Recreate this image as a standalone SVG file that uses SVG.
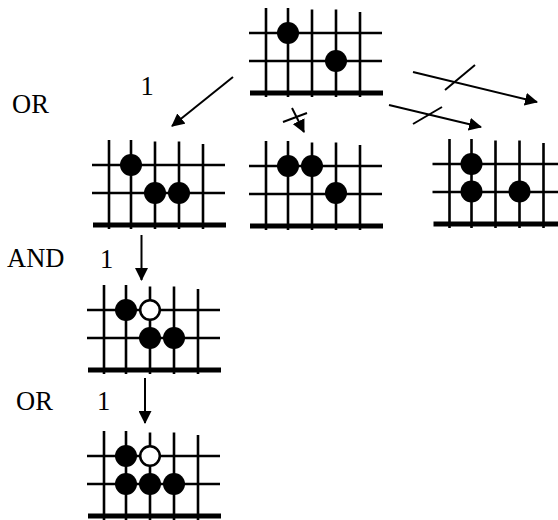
<svg xmlns="http://www.w3.org/2000/svg" xmlns:xlink="http://www.w3.org/1999/xlink" width="558" height="520" viewBox="0 0 558 520">
<style>
.g{stroke:#000;stroke-width:2.6;fill:none}
.t{stroke:#000;stroke-width:5;fill:none}
.b{fill:#000}
.w{fill:#fff;stroke:#000;stroke-width:2.5}
.c{stroke:#000;stroke-width:2;fill:none}
.lbl{font-family:"Liberation Serif","Times New Roman",serif;font-size:26.5px;fill:#000}
</style>
<defs>
<marker id="ah" markerUnits="userSpaceOnUse" markerWidth="13" markerHeight="13" viewBox="0 0 13 13" refX="12" refY="6.5" orient="auto">
<path d="M0,0 L13,6.5 L0,13 z" fill="#000"/>
</marker>
<g id="grid">
<line class="g" x1="0" y1="-25" x2="0" y2="64"/>
<line class="g" x1="22" y1="-25" x2="22" y2="64"/>
<line class="g" x1="46" y1="-23.5" x2="46" y2="64"/>
<line class="g" x1="70" y1="-23.5" x2="70" y2="64"/>
<line class="g" x1="94" y1="-21" x2="94" y2="64"/>
<line class="g" x1="-17" y1="0" x2="116" y2="0"/>
<line class="g" x1="-17" y1="28" x2="116" y2="28"/>
<line class="t" x1="-16" y1="60" x2="117" y2="60"/>
</g>
</defs>
<rect width="558" height="520" fill="#fff"/>

<g id="board-top" transform="translate(266,33)">
<use xlink:href="#grid" href="#grid"/>
<circle class="b" cx="22" cy="0" r="11"/>
<circle class="b" cx="70" cy="28" r="11"/>
</g>

<g id="board-left" transform="translate(109,165)">
<use xlink:href="#grid" href="#grid"/>
<circle class="b" cx="22" cy="0" r="11"/>
<circle class="b" cx="46" cy="28" r="11"/>
<circle class="b" cx="70" cy="28" r="11"/>
</g>

<g id="board-middle" transform="translate(266,166)">
<use xlink:href="#grid" href="#grid"/>
<circle class="b" cx="22" cy="0" r="11"/>
<circle class="b" cx="46" cy="0" r="11"/>
<circle class="b" cx="70" cy="27" r="11"/>
</g>

<g id="board-right" transform="translate(449.5,164)">
<use xlink:href="#grid" href="#grid"/>
<circle class="b" cx="22" cy="0" r="11"/>
<circle class="b" cx="22" cy="27.5" r="11"/>
<circle class="b" cx="70" cy="27.5" r="11"/>
</g>

<g id="board-and" transform="translate(104,310)">
<use xlink:href="#grid" href="#grid"/>
<circle class="b" cx="22" cy="0" r="11"/>
<circle class="w" cx="46" cy="0" r="9.8"/>
<circle class="b" cx="46" cy="28" r="11"/>
<circle class="b" cx="70" cy="28" r="11"/>
</g>

<g id="board-bottom" transform="translate(104,456)">
<use xlink:href="#grid" href="#grid"/>
<circle class="b" cx="22" cy="0" r="11"/>
<circle class="w" cx="46" cy="0" r="9.8"/>
<circle class="b" cx="22" cy="28" r="11"/>
<circle class="b" cx="46" cy="28" r="11"/>
<circle class="b" cx="70" cy="28" r="11"/>
</g>

<g id="connectors">
<line class="c" x1="233" y1="77" x2="172" y2="126" marker-end="url(#ah)"/>
<line class="c" x1="292" y1="108" x2="304" y2="132" marker-end="url(#ah)"/>
<line class="c" x1="283" y1="122" x2="307" y2="113"/>
<line class="c" x1="389" y1="105" x2="481" y2="127" marker-end="url(#ah)"/>
<line class="c" x1="413" y1="124" x2="442" y2="107"/>
<line class="c" x1="413" y1="72" x2="537" y2="102" marker-end="url(#ah)"/>
<line class="c" x1="445" y1="90" x2="475" y2="65"/>
<line class="c" x1="141.5" y1="235" x2="141.5" y2="280" marker-end="url(#ah)"/>
<line class="c" x1="145" y1="378" x2="145" y2="423" marker-end="url(#ah)"/>
</g>

<g id="labels">
<text class="lbl" x="12" y="113">OR</text>
<text class="lbl" x="147" y="95" text-anchor="middle">1</text>
<text class="lbl" x="7" y="267">AND</text>
<text class="lbl" x="106.5" y="268" text-anchor="middle">1</text>
<text class="lbl" x="16" y="410">OR</text>
<text class="lbl" x="103.5" y="410" text-anchor="middle">1</text>
</g>
</svg>
